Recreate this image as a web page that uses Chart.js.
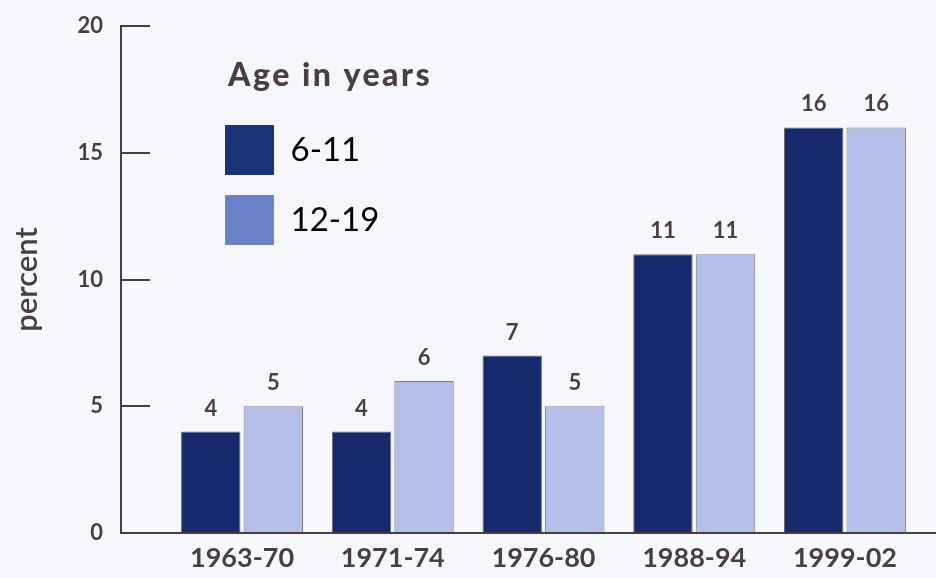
<!DOCTYPE html>
<html>
<head>
<meta charset="utf-8">
<script src="https://cdn.jsdelivr.net/npm/chart.js@4.4.1/dist/chart.umd.min.js"></script>
<style>
  html, body { margin: 0; padding: 0; background: #f5f7fb; }
  #wrap { width: 936px; height: 578px; }
</style>
</head>
<body>
<div id="wrap"><canvas id="chart"></canvas></div>
<script>
// data
const periods = ['1963-70', '1971-74', '1976-80', '1988-94', '1999-02'];
const ages6to11 = [4, 4, 7, 11, 16];
const ages12to19 = [5, 6, 5, 11, 16];
const seriesNames = ['6-11', '12-19'];
const yTicks = [0, 5, 10, 15, 20];
const legendTitle = 'Age in years';
const yTitle = 'percent';

const ink = '#4b3d44';
const barFills = ['#15296b', '#b3bfe8'];
const legendFills = ['#1a337a', '#6a81c7'];

// puts the numbers over the bars and the legend heading
const valueLabels = {
	id: 'valueLabels',
	afterDatasetsDraw( chart ) {
		const ctx = chart.ctx;
		ctx.save();
		ctx.font = 'bold 22px Lato';
		ctx.fillStyle = ink;
		ctx.textAlign = 'center';
		ctx.textBaseline = 'middle';
		chart.data.datasets.forEach( ( ds, i ) => {
			chart.getDatasetMeta( i ).data.forEach( ( bar, j ) => {
				ctx.fillText( ds.data[ j ].y, bar.x, bar.y - 23 );
			} );
		} );

		ctx.font = '900 32px Lato';
		ctx.textAlign = 'left';
		ctx.letterSpacing = '2.5px';
		ctx.fillText( legendTitle, 228, 76 );
		ctx.restore();
	},
};

// legend sits inside the plot, moved off the axis
const legendSpot = {
	id: 'legendSpot',
	afterLayout( chart ) {
		const lg = chart.legend;
		const w = lg.width;
		const h = lg.height;
		lg.left = 205;
		lg.top = 105;
		lg.right = lg.left + w;
		lg.bottom = lg.top + h;
	},
};

const toPoints = values => values.map( ( v, i ) => ( { x: i, y: v } ) );

new Chart(
	document.getElementById( 'chart' ).getContext( '2d' ),
	{
		type: 'bar',
		data: {
			datasets: [
				{
					label: seriesNames[ 0 ],
					data: toPoints( ages6to11 ),
					backgroundColor: barFills[ 0 ],
					borderColor: '#6f6676',
					borderWidth: 1,
				},
				{
					label: seriesNames[ 1 ],
					data: toPoints( ages12to19 ),
					backgroundColor: barFills[ 1 ],
					borderColor: '#857b86',
					borderWidth: 1,
				},
			],
		},
		options: {
			responsive: true,
			maintainAspectRatio: false,
			animation: false,
			categoryPercentage: 0.83,
			barPercentage: 0.95,
			layout: {
				padding: { top: 26, left: 0, right: 0, bottom: 0 },
			},
			plugins: {
				tooltip: { enabled: false },
				legend: {
					position: 'chartArea',
					align: 'start',
					labels: {
						boxWidth: 49,
						boxHeight: 50,
						padding: 20,
						color: ink,
						font: { family: 'Lato', size: 33 },
						generateLabels: chart => chart.data.datasets.map( ( ds, i ) => ( {
							text: ds.label,
							fillStyle: legendFills[ i ],
							strokeStyle: legendFills[ i ],
							lineWidth: 0,
							hidden: false,
							datasetIndex: i,
						} ) ),
					},
				},
			},
			scales: {
				x: {
					type: 'linear',
					min: -0.803,
					max: 4.604,
					offset: false,
					grid: { display: true, drawOnChartArea: false, drawTicks: false, offset: false },
					border: { display: true, color: ink, width: 2 },
					ticks: {
						stepSize: 1,
						includeBounds: false,
						autoSkip: false,
						maxRotation: 0,
						padding: 9,
						color: ink,
						font: { family: 'Lato', size: 27, weight: 'bold', lineHeight: 1.2 },
						callback: v => Number.isInteger( v ) ? periods[ v ] : '',
					},
					afterFit: scale => { scale.height = 45; },
				},
				y: {
					min: yTicks[ 0 ],
					max: yTicks[ yTicks.length - 1 ],
					grid: { drawOnChartArea: false, drawTicks: true, tickLength: -29, color: ink, lineWidth: 2 },
					border: { color: ink, width: 2 },
					ticks: {
						stepSize: yTicks[ 1 ] - yTicks[ 0 ],
						padding: 47,
						color: ink,
						font: { family: 'Lato', size: 22, weight: 'bold' },
					},
					title: {
						display: true,
						text: yTitle,
						color: ink,
						font: { family: 'Lato', size: 31, weight: '600', lineHeight: 1.2 },
						padding: { top: 8, bottom: 0 },
					},
					afterFit: scale => {
						scale.width = 121;
						scale.paddingTop = 0;
						scale.paddingBottom = 0;
					},
				},
			},
		},
		plugins: [ valueLabels, legendSpot ],
	}
);
</script>
</body>
</html>
